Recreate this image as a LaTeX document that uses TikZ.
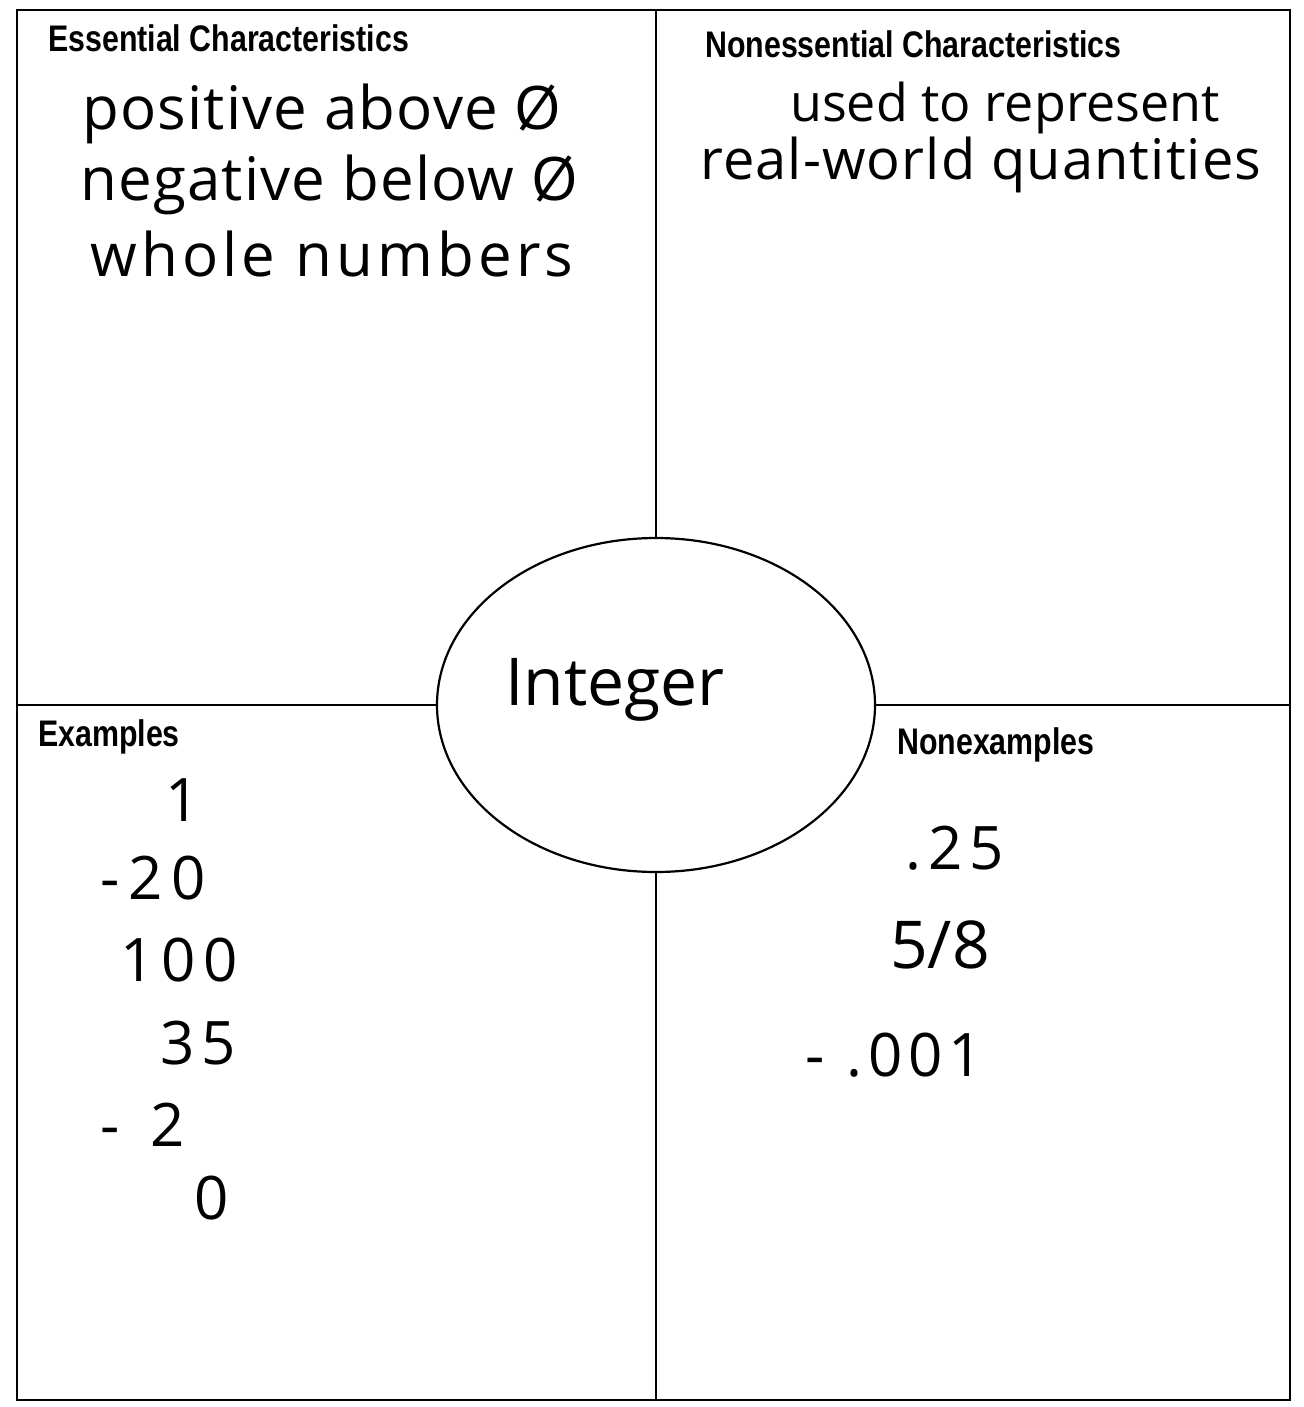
\documentclass[tikz,border=0pt]{standalone}
\usepackage{fontspec}
\setmainfont{Open Sans}
\newfontfamily\headfont[FakeStretch=0.82]{Liberation Sans}
\usetikzlibrary{shapes.geometric}

\begin{document}
\begin{tikzpicture}[x=1pt, y=-1pt,
    heading/.style={anchor=west, inner sep=0pt, font=\headfont\bfseries\fontsize{37}{37}\selectfont},
    hand/.style={anchor=west, inner sep=0pt, font=\fontsize{60}{60}\selectfont},
    spaced/.style={hand, font=\fontsize{60}{60}\selectfont\addfontfeature{LetterSpace=#1}},
    rule/.style={line width=2.2pt}]
  \useasboundingbox (0,0) rectangle (1303,1407);

  % frame and centre
  \coordinate (tl) at (17,10);
  \coordinate (br) at (1290,1400);
  \draw[rule] (tl) rectangle (br);
  \node[shape=ellipse, draw, rule, minimum width=438, minimum height=334] (term) at (656,705){};
  \node[hand, anchor=center, font=\fontsize{66}{66}\selectfont] (word) at (615,690){Integer};

  \draw[rule] (term.north) to (term.north |- tl);
  \draw[rule] (term.south) to (term.south |- br);
  \draw[rule] (term.west) to (term.west -| tl);
  \draw[rule] (term.east) to (term.east -| br);

  % headings
  \node[heading] (ess) at (48,38){Essential Characteristics};
  \node[heading] (noness) at (705,44){Nonessential Characteristics};
  \node[heading] (ex) at (38,737){Examples};
  \node[heading] (nonex) at (897,745){Nonexamples};

  % essential
  \node[spaced=2] (e1) at (82,114){positive above Ø};
  \node[spaced=2] (e2) at (80,185){negative below Ø};
  \node[spaced=7] (e3) at (90,254){whole numbers};

  % nonessential
  \node[hand, font=\fontsize{52}{52}\selectfont] (n1) at (790,108){used to represent};
  \node[hand, font=\fontsize{56}{56}\selectfont\addfontfeature{LetterSpace=2}] (n2) at (700,165){real-world quantities};

  % examples
  \node[hand] (x1) at (165,800){1};
  \node[spaced=15] (x2) at (100,878){-20};
  \node[spaced=12] (x3) at (120,960){100};
  \node[spaced=12] (x4) at (160,1043){35};
  \node[spaced=25] (x5) at (100,1125){- 2};
  \node[hand] (x6) at (194,1198){0};

  % nonexamples
  \node[spaced=12] (y1) at (905,848){.25};
  \node[hand, font=\fontsize{66}{66}\selectfont] (y2) at (890,945){5/8};
  \node[spaced=10] (y3) at (805,1055){- .001};
\end{tikzpicture}
\end{document}
